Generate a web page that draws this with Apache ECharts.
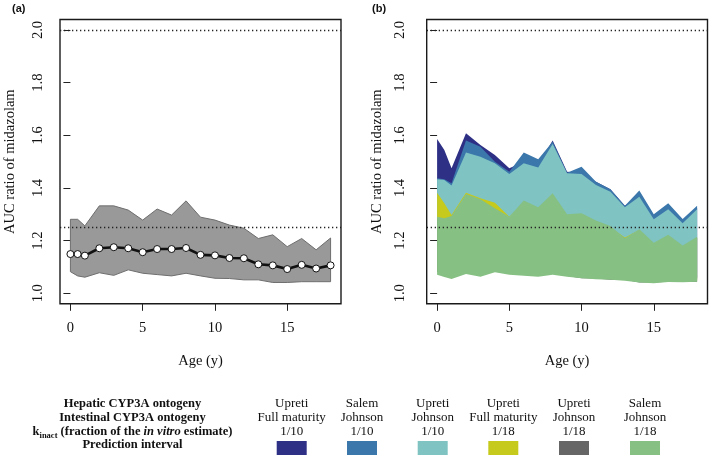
<!DOCTYPE html>
<html>
<head>
<meta charset="utf-8">
<script src="https://cdn.jsdelivr.net/npm/echarts@6/dist/echarts.min.js"></script>
<style>
html, body { margin: 0; padding: 0; background: #fff; }
#main { width: 709px; height: 455px; }
</style>
</head>
<body>
<div id="main"></div>
<script>
// ages (years)
var ages = [0, 0.5, 1, 2, 3, 4, 5, 6, 7, 8, 9, 10, 11, 12, 13, 14, 15, 16, 17, 18];

// panel (a): Upreti / Johnson / 1/18  (same band is the grey one in panel b)
var medianA  = [1.149, 1.149, 1.143, 1.171, 1.175, 1.171, 1.156, 1.168, 1.168, 1.172, 1.146, 1.144, 1.134, 1.133, 1.110, 1.106, 1.092, 1.108, 1.094, 1.106];
var greyUpper = [1.281, 1.281, 1.256, 1.332, 1.332, 1.316, 1.278, 1.320, 1.297, 1.351, 1.289, 1.278, 1.259, 1.247, 1.208, 1.222, 1.177, 1.208, 1.165, 1.210];
var greyLower = [1.082, 1.066, 1.061, 1.078, 1.068, 1.089, 1.076, 1.071, 1.066, 1.076, 1.066, 1.057, 1.056, 1.051, 1.051, 1.041, 1.041, 1.044, 1.044, 1.044];

// panel (b) prediction intervals
var navyUpper   = [1.586, 1.544, 1.475, 1.608, 1.563, 1.525, 1.475, 1.500, 1.490, 1.580, 1.462, 1.458, 1.424, 1.395, 1.332, 1.370, 1.290, 1.330, 1.270, 1.325];
var navyLower   = [1.100, 1.090, 1.080, 1.100, 1.090, 1.110, 1.100, 1.090, 1.090, 1.100, 1.090, 1.080, 1.080, 1.070, 1.070, 1.060, 1.060, 1.060, 1.060, 1.060];
var blueUpper   = [1.437, 1.433, 1.418, 1.580, 1.557, 1.500, 1.462, 1.535, 1.509, 1.576, 1.458, 1.481, 1.424, 1.395, 1.332, 1.390, 1.300, 1.342, 1.282, 1.332];
var blueLower   = [1.095, 1.085, 1.075, 1.095, 1.085, 1.105, 1.095, 1.085, 1.085, 1.095, 1.085, 1.075, 1.075, 1.065, 1.065, 1.055, 1.055, 1.055, 1.055, 1.055];
var tealUpper   = [1.433, 1.430, 1.409, 1.535, 1.519, 1.494, 1.453, 1.494, 1.478, 1.567, 1.456, 1.453, 1.411, 1.386, 1.327, 1.367, 1.281, 1.319, 1.266, 1.319];
var tealLower   = [1.090, 1.080, 1.070, 1.090, 1.080, 1.100, 1.090, 1.080, 1.080, 1.090, 1.080, 1.070, 1.070, 1.060, 1.060, 1.050, 1.050, 1.050, 1.050, 1.050];
var yellowUpper = [1.382, 1.342, 1.297, 1.382, 1.361, 1.344, 1.291, 1.340, 1.310, 1.370, 1.290, 1.295, 1.270, 1.250, 1.212, 1.240, 1.185, 1.215, 1.175, 1.210];
var yellowLower = [1.085, 1.075, 1.068, 1.085, 1.075, 1.095, 1.085, 1.075, 1.075, 1.085, 1.075, 1.065, 1.065, 1.058, 1.058, 1.048, 1.048, 1.048, 1.048, 1.048];
var greenUpper  = [1.291, 1.285, 1.294, 1.377, 1.357, 1.323, 1.291, 1.352, 1.327, 1.380, 1.300, 1.304, 1.276, 1.256, 1.209, 1.243, 1.192, 1.222, 1.181, 1.215];
var greenLower  = [1.070, 1.062, 1.054, 1.073, 1.063, 1.080, 1.070, 1.067, 1.063, 1.070, 1.063, 1.057, 1.053, 1.051, 1.048, 1.041, 1.038, 1.043, 1.042, 1.044];

var refLines = [2.0, 1.25];
var yTicks = [1.0, 1.2, 1.4, 1.6, 1.8, 2.0];
var xTicks = [0, 5, 10, 15];

// legend table
var hepatic    = ['Upreti', 'Salem', 'Upreti', 'Upreti', 'Upreti', 'Salem'];
var intestinal = ['Full maturity', 'Johnson', 'Johnson', 'Full maturity', 'Johnson', 'Johnson'];
var kinact     = ['1/10', '1/10', '1/10', '1/18', '1/18', '1/18'];
var bandColors = ['#2e3085', '#3b77ab', '#7fc3c3', '#c5ca1c', '#666666', '#86c083'];

var serif = '"Liberation Serif", "Times New Roman", serif';

var myChart = echarts.init(document.getElementById('main'));

function bandSeries(upper, lower, color, stroke, idx) {
    return {
        type: 'custom',
        xAxisIndex: idx,
        yAxisIndex: idx,
        silent: true,
        data: ages.map(function (a, i) { return [a, upper[i], lower[i]]; }),
        encode: { x: 0, y: [1, 2] },
        renderItem: function (params, api) {
            if (params.dataIndex !== 0) return;
            var pts = [];
            for (var i = 0; i < ages.length; i++) pts.push(api.coord([ages[i], upper[i]]));
            for (var j = ages.length - 1; j >= 0; j--) pts.push(api.coord([ages[j], lower[j]]));
            return {
                type: 'polygon',
                shape: { points: pts },
                style: { fill: color, stroke: stroke || null, lineWidth: 1 }
            };
        }
    };
}

function refSeries(idx) {
    return {
        type: 'line',
        xAxisIndex: idx,
        yAxisIndex: idx,
        data: [],
        z: 5,
        markLine: {
            silent: true,
            symbol: 'none',
            label: { show: false },
            lineStyle: { color: '#222', width: 1.3, type: [1.3, 2.7] },
            data: refLines.map(function (v) { return { yAxis: v }; })
        }
    };
}

function xAxisOf(idx) {
    return {
        gridIndex: idx,
        type: 'value',
        min: -0.72,
        max: 18.72,
        name: 'Age (y)',
        nameLocation: 'middle',
        nameGap: 50,
        nameTextStyle: { fontFamily: serif, fontSize: 14.5, color: '#111' },
        axisLine: { show: false },
        splitLine: { show: false },
        axisTick: { show: true, length: 7, customValues: xTicks, lineStyle: { color: '#222', width: 1 } },
        axisLabel: { customValues: xTicks, margin: 17, fontFamily: serif, fontSize: 14.5, color: '#111' }
    };
}

function yAxisOf(idx, margin) {
    return {
        gridIndex: idx,
        type: 'value',
        min: 0.96,
        max: 2.04,
        name: 'AUC ratio of midazolam',
        nameLocation: 'middle',
        nameGap: 42,
        nameTextStyle: { fontFamily: serif, fontSize: 14.5, color: '#111' },
        axisLine: { show: false },
        splitLine: { show: false },
        axisTick: { show: true, length: 7, customValues: yTicks, lineStyle: { color: '#222', width: 1 } },
        axisLabel: {
            customValues: yTicks, rotate: 90, margin: margin,
            fontFamily: serif, fontSize: 14.5, color: '#111',
            formatter: function (v) { return v.toFixed(1); }
        }
    };
}

// legend graphics
var graphics = [
    { type: 'text', left: 12, top: 3, style: { text: '(a)', font: 'bold 11px "Liberation Sans", Arial, sans-serif', fill: '#111' } },
    { type: 'text', left: 372, top: 3, style: { text: '(b)', font: 'bold 11px "Liberation Sans", Arial, sans-serif', fill: '#111' } }
];
var leftLines = ['Hepatic CYP3A ontogeny', 'Intestinal CYP3A ontogeny', null, 'Prediction interval'];
var rowY = [404, 417.3, 431.7, 445];
leftLines.forEach(function (t, i) {
    if (t === null) {
        graphics.push({
            type: 'text', x: 132.5, y: rowY[i],
            style: {
                text: '{b|k}{s|inact}{b| (fraction of the }{i|in vitro}{b| estimate)}',
                textAlign: 'center', textVerticalAlign: 'middle', fill: '#111',
                rich: {
                    b: { fontFamily: serif, fontWeight: 'bold', fontSize: 12.5, lineHeight: 17, verticalAlign: 'middle' },
                    i: { fontFamily: serif, fontWeight: 'bold', fontStyle: 'italic', fontSize: 12.5, lineHeight: 17, verticalAlign: 'middle' },
                    s: { fontFamily: serif, fontWeight: 'bold', fontSize: 8.5, lineHeight: 8, verticalAlign: 'bottom' }
                }
            }
        });
    } else {
        graphics.push({
            type: 'text', x: 132.5, y: rowY[i],
            style: { text: t, textAlign: 'center', textVerticalAlign: 'middle', fill: '#111', font: 'bold 12.5px ' + serif }
        });
    }
});
var colX = [291.7, 362, 432.7, 503.3, 574, 645];
colX.forEach(function (cx, k) {
    [hepatic[k], intestinal[k], kinact[k]].forEach(function (t, r) {
        graphics.push({
            type: 'text', x: cx, y: rowY[r],
            style: { text: t, textAlign: 'center', textVerticalAlign: 'middle', fill: '#111', font: '13px ' + serif }
        });
    });
    graphics.push({
        type: 'rect', shape: { x: cx - 15, y: 441, width: 30, height: 14 },
        style: { fill: bandColors[k] }
    });
});

var option = {
    animation: false,
    backgroundColor: '#fff',
    grid: [
        { left: 60, right: 368, top: 19.5, bottom: 151.2, show: true, borderColor: '#1a1a1a', borderWidth: 1.4, backgroundColor: 'transparent' },
        { left: 426.7, right: 1.5, top: 19.5, bottom: 151.2, show: true, borderColor: '#1a1a1a', borderWidth: 1.4, backgroundColor: 'transparent' }
    ],
    xAxis: [xAxisOf(0), xAxisOf(1)],
    yAxis: [yAxisOf(0, 14), yAxisOf(1, 19)],
    graphic: graphics,
    series: [
        bandSeries(greyUpper, greyLower, '#999999', '#6e6e6e', 0),
        {
            type: 'line',
            xAxisIndex: 0,
            yAxisIndex: 0,
            data: ages.map(function (a, i) { return [a, medianA[i]]; }),
            symbol: 'circle',
            symbolSize: 7,
            showAllSymbol: true,
            z: 4,
            lineStyle: { color: '#111', width: 2.6 },
            itemStyle: { color: '#fff', borderColor: '#111', borderWidth: 1 }
        },
        refSeries(0),
        bandSeries(navyUpper, navyLower, bandColors[0], null, 1),
        bandSeries(blueUpper, blueLower, bandColors[1], null, 1),
        bandSeries(tealUpper, tealLower, bandColors[2], null, 1),
        bandSeries(yellowUpper, yellowLower, bandColors[3], null, 1),
        bandSeries(greyUpper, greyLower, bandColors[4], null, 1),
        bandSeries(greenUpper, greenLower, bandColors[5], null, 1),
        refSeries(1)
    ]
};
myChart.setOption(option);
</script>
</body>
</html>
